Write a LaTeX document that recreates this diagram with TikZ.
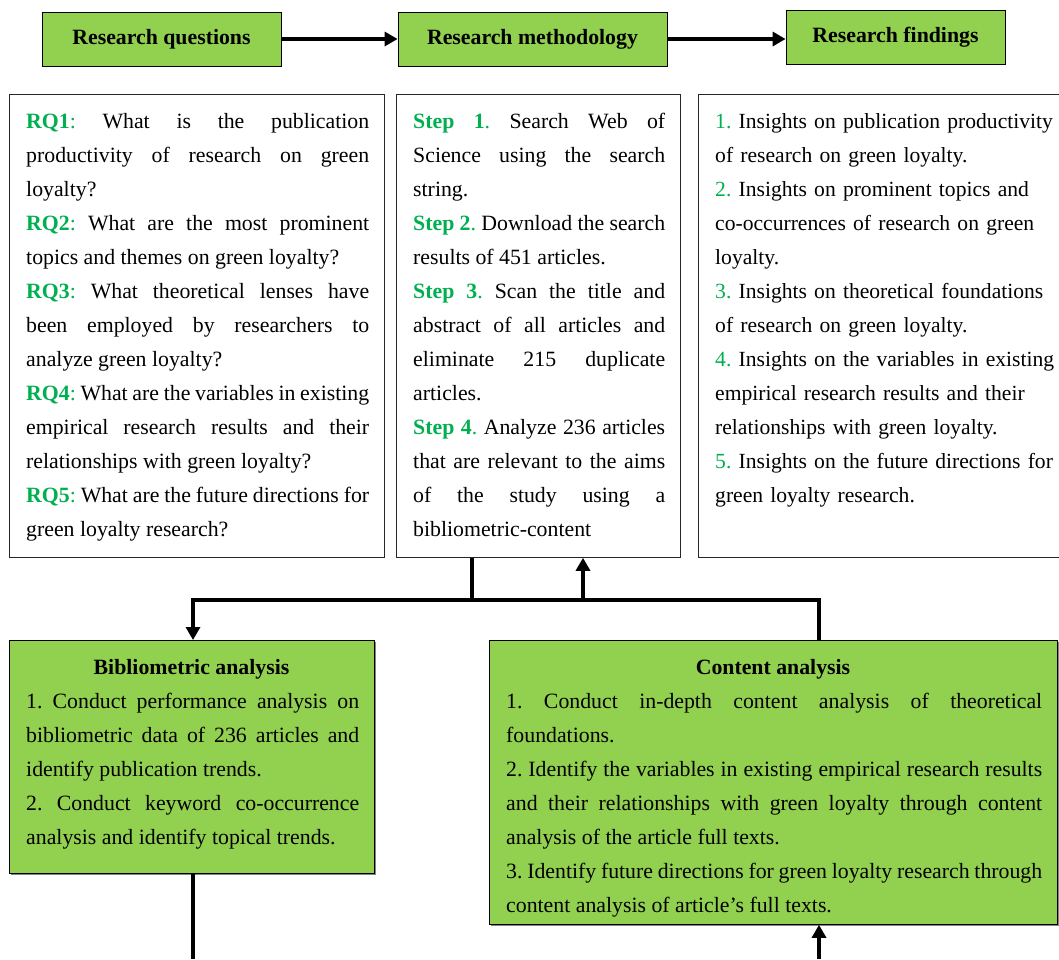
\documentclass[tikz,border=0pt]{standalone}
\usepackage{fontspec}
\setmainfont{Liberation Serif}
\usetikzlibrary{arrows.meta,shadows}
\definecolor{boxgreen}{HTML}{92D050}
\definecolor{txtgreen}{HTML}{00B050}
\newcommand{\grnb}[1]{\textcolor{txtgreen}{\textbf{#1}}}
\newcommand{\grn}[1]{\textcolor{txtgreen}{#1}}
\setlength\parindent{0pt}
\setlength\parskip{0pt}
\tolerance=10000
\hbadness=10000
\hfuzz=30pt
\frenchspacing
\begin{document}
\begin{tikzpicture}[x=1pt,y=-1pt,
  gbox/.style={draw=black, line width=0.8pt, fill=boxgreen, inner sep=0pt,
    drop shadow={shadow xshift=1.3pt, shadow yshift=-1.3pt, fill=black!60, opacity=0.8}},
  wbox/.style={draw=black!85, line width=0.8pt, fill=white, inner sep=0pt},
  body/.style={anchor=north west, inner sep=0pt, font=\fontsize{21.8}{34}\selectfont\frenchspacing, align=justify},
  lbody/.style={anchor=north west, inner sep=0pt, font=\fontsize{21.6}{34}\selectfont\frenchspacing, align=left},
  ttl/.style={font=\fontsize{21.8}{24}\selectfont\bfseries, inner sep=0pt},
  conn/.style={line width=4pt},
  arr/.style={line width=4pt, -{Triangle[length=13pt,width=14pt]}},
]
\path[use as bounding box, fill=white] (0,0) rectangle (1059,959);

% top row
\node[gbox, minimum width=239pt, minimum height=54pt, ttl] (rqt) at (161.5,39) {Research questions};
\node[gbox, minimum width=269pt, minimum height=54pt, ttl] (rmt) at (532.5,39) {Research methodology};
\node[gbox, minimum width=219pt, minimum height=54pt, ttl] (rft) at (895.5,37) {Research findings};
\draw[arr] (rqt.east) -- (rmt.west);
\draw[arr] (rmt.east) -- (rmt.east -| rft.west);

% white boxes
\node[wbox, anchor=north west, minimum width=375pt, minimum height=463pt] (rq) at (9,94) {};
\node[wbox, anchor=north west, minimum width=284pt, minimum height=463pt] (steps) at (396,94) {};
\node[wbox, anchor=north west, minimum width=362pt, minimum height=463pt] (find) at (698,94) {};

\node[body, text width=343pt] (rqtext) at (26,104.2) {\strut\grnb{RQ1}\grn{:} What is the publication\linebreak
productivity of research on green\linebreak loyalty?\par
\grnb{RQ2}\grn{:} What are the most prominent\linebreak topics and themes on green loyalty?\par
\grnb{RQ3}\grn{:} What theoretical lenses have\linebreak been employed by researchers to\linebreak analyze green loyalty?\par
\grnb{RQ4}\grn{:} What are the variables in existing\linebreak empirical research results and their\linebreak relationships with green loyalty?\par
\grnb{RQ5}\grn{:} What are the future directions for\linebreak green loyalty research?};

\node[body, text width=252pt] (stepstext) at (413,104.2) {\strut\grnb{Step 1}\grn{.} Search Web of\linebreak
Science using the search\linebreak string.\par
\grnb{Step 2}\grn{.} Download the search\linebreak results of 451 articles.\par
\grnb{Step 3}\grn{.} Scan the title and\linebreak abstract of all articles and\linebreak eliminate 215 duplicate\linebreak articles.\par
\grnb{Step 4}\grn{.} Analyze 236 articles\linebreak that are relevant to the aims\linebreak of the study using a\linebreak bibliometric-content};

\node[lbody, text width=345pt] (findtext) at (715,104.2) {\strut\grn{1.} Insights on publication productivity\\
of research on green loyalty.\\
\grn{2.} Insights on prominent topics and\\
co-occurrences of research on green\\
loyalty.\\
\grn{3.} Insights on theoretical foundations\\
of research on green loyalty.\\
\grn{4.} Insights on the variables in existing\\
empirical research results and their\\
relationships with green loyalty.\\
\grn{5.} Insights on the future directions for\\
green loyalty research.};

% green analysis boxes
\node[gbox, anchor=north west, minimum width=365pt, minimum height=233pt] (bib) at (9,640) {};
\node[gbox, anchor=north west, minimum width=568pt, minimum height=284pt] (con) at (489,640) {};

\node[ttl, anchor=base] (bibt) at (191.5,674) {Bibliometric analysis};
\node[body, text width=333pt] (bibtext) at (26,684.2) {\strut 1. Conduct performance analysis on\linebreak
bibliometric data of 236 articles and\linebreak identify publication trends.\par
2. Conduct keyword co-occurrence\linebreak analysis and identify topical trends.};

\node[ttl, anchor=base] (cont) at (773,674) {Content analysis};
\node[body, text width=536pt] (context) at (506,684.2) {\strut 1. Conduct in-depth content analysis of theoretical\linebreak foundations.\par
2. Identify the variables in existing empirical research results\linebreak and their relationships with green loyalty through content\linebreak analysis of the article full texts.\par
3. Identify future directions for green loyalty research through\linebreak content analysis of article’s full texts.};

% connectors
\coordinate (jl) at (193,600);
\coordinate (jr) at (819,600);
\coordinate (sdown) at (472,600);
\coordinate (sup) at (583,600);
\coordinate (bend) at (193,959);
\coordinate (cend) at (819,959);
\draw[conn] (sdown |- steps.south) -- (sdown);
\draw[conn, line cap=rect] (jl) -- (jr);
\draw[arr] (jl) -- (jl |- bib.north);
\draw[arr] (sup) -- (sup |- steps.south);
\draw[conn] (jr) -- (jr |- con.north);
\draw[conn] (bend |- bib.south) -- (bend);
\draw[arr] (cend) -- (cend |- con.south);
\end{tikzpicture}
\end{document}
